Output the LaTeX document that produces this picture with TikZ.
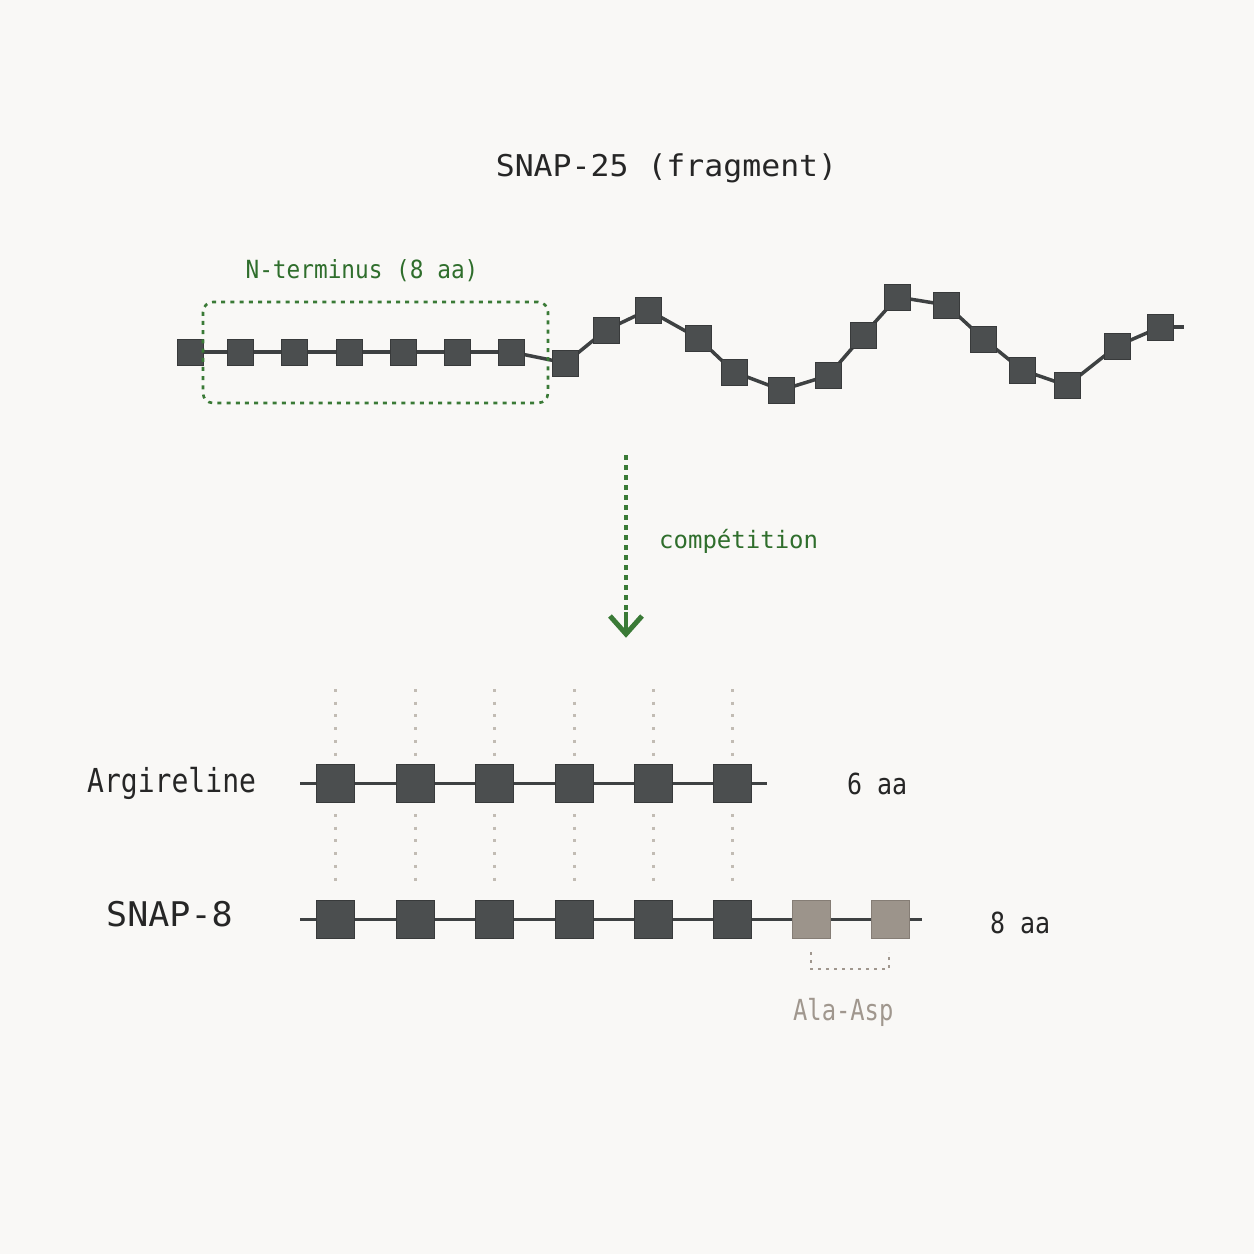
\documentclass[tikz,border=0pt]{standalone}
\usepackage{fontspec}
\setmainfont{DejaVu Sans Mono}
\pgfdeclarelayer{back}
\pgfdeclarelayer{bg}
\pgfsetlayers{back,bg,main}
\definecolor{bgc}{HTML}{F9F8F6}
\definecolor{sqc}{HTML}{4B4E4F}
\definecolor{sqb}{HTML}{383A3B}
\definecolor{linec}{HTML}{3E4142}
\definecolor{grn}{HTML}{2F6E2C}
\definecolor{grnd}{HTML}{3A7A36}
\definecolor{tanc}{HTML}{9C948B}
\definecolor{tanb}{HTML}{857D75}
\definecolor{tant}{HTML}{A0978E}
\definecolor{dotg}{HTML}{C2BCB4}
\tikzset{
  aa/.style={draw=sqb, fill=sqc, line width=1pt, minimum size=26pt, inner sep=0pt},
  aabig/.style={aa, minimum size=38pt},
  aatan/.style={aabig, draw=tanb, fill=tanc},
  chain/.style={draw=linec, line width=3.5pt},
  lbl/.style={inner sep=0pt, text=black!85},
  guide/.style={draw=dotg, line width=3pt, dash pattern=on 3pt off 9.7pt},
}
\begin{document}
\begin{tikzpicture}[x=1pt,y=-1pt]
\useasboundingbox (0,0) rectangle (1254,1254);
\begin{pgfonlayer}{back}
\fill[bgc] (0,0) rectangle (1254,1254);
\end{pgfonlayer}

% title
\node[lbl, anchor=base, font=\fontsize{30}{36}\selectfont, xscale=1.05, transform shape] (title) at (666.5,176.5) {SNAP-25 (fragment)};

% top chain
\foreach \i/\x/\y in {1/190/352,2/240/352,3/294.5/352,4/349/352,5/403.5/352,6/457.5/352,7/511.5/352,
  8/565.5/363,9/606/330,10/648/310,11/698/338,12/734/372,13/781.5/390,14/828.5/375.5,15/863.5/335,
  16/897.5/297,17/946.5/305,18/983.5/339,19/1022/370,20/1067/385.5,21/1117/346,22/1160.5/327}
  \node[aa] (t\i) at (\x,\y) {};
\coordinate (tend) at (1184,327);
\begin{pgfonlayer}{bg}
\foreach \i [evaluate=\i as \j using int(\i+1)] in {1,...,21}
  \draw[chain] (t\i.center) -- (t\j.center);
\draw[chain] (t22.center) -- (tend);
\end{pgfonlayer}

% N-terminus box
\node[draw=grnd, line width=2.6pt, dash pattern=on 4pt off 5.2pt, rounded corners=10pt,
  minimum width=345pt, minimum height=101pt, inner sep=0pt] (nbox) at (375.5,352.5) {};
\node[lbl, text=grn, anchor=base, font=\fontsize{25}{30}\selectfont, xscale=0.91, transform shape] (nlab) at (362,278) {N-terminus (8 aa)};

% competition arrow
\coordinate (a1) at (626,455);
\coordinate (a2) at (626,634);
\coordinate (al) at (610,616);
\coordinate (ar) at (642,616);
\draw[grnd, line width=4pt, dash pattern=on 5pt off 5pt] (a1) -- (626,612);
\draw[grnd, line width=4.5pt] (626,612) -- (a2);
\draw[grnd, line width=5pt, line join=miter] (al) -- (a2) -- (ar);
\node[lbl, text=grn, anchor=base west, font=\fontsize{24}{29}\selectfont] (comp) at (659,548) {compétition};

% bottom rows
\foreach \i/\x in {1/335.5,2/415,3/494,4/574,5/653,6/732.5} {
  \node[aabig] (r\i) at (\x,783.5) {};
  \node[aabig] (s\i) at (\x,919.5) {};
  \coordinate (g\i a) at (\x,689);
  \coordinate (g\i b) at (\x,757);
  \coordinate (g\i c) at (\x,814);
  \coordinate (g\i d) at (\x,884);
  \draw[guide] (g\i a) -- (g\i b);
  \draw[guide] (g\i c) -- (g\i d);
}
\node[aatan] (s7) at (811,919.5) {};
\node[aatan] (s8) at (890,919.5) {};
\coordinate (rstart) at (300,783.5);
\coordinate (rend) at (767,783.5);
\coordinate (sstart) at (300,919.5);
\coordinate (send) at (922,919.5);
\begin{pgfonlayer}{bg}
\draw[chain] (rstart) -- (rend);
\draw[chain] (sstart) -- (send);
\end{pgfonlayer}

% bracket
\coordinate (b1) at (811,952);
\coordinate (b2) at (811,969);
\coordinate (b3) at (889,969);
\coordinate (b4) at (889,952);
\draw[tant, line width=2.6pt, dash pattern=on 3pt off 5pt] (b1) -- (b2) -- (b3) -- (b4);

% labels
\node[lbl, anchor=base west, font=\fontsize{33}{40}\selectfont, xscale=0.85, transform shape] (argl) at (87,792.5) {Argireline};
\node[lbl, anchor=base west, font=\fontsize{34}{40}\selectfont, xscale=1.03, transform shape] (snapl) at (106,926.5) {SNAP-8};
\node[lbl, anchor=base west, font=\fontsize{29}{35}\selectfont, xscale=0.86, transform shape] (six) at (847,794) {6 aa};
\node[lbl, anchor=base west, font=\fontsize{29}{35}\selectfont, xscale=0.86, transform shape] (eight) at (990,933) {8 aa};
\node[lbl, text=tant, anchor=base west, font=\fontsize{29}{35}\selectfont, xscale=0.82, transform shape] (alaasp) at (793,1020) {Ala-Asp};
\end{tikzpicture}
\end{document}
